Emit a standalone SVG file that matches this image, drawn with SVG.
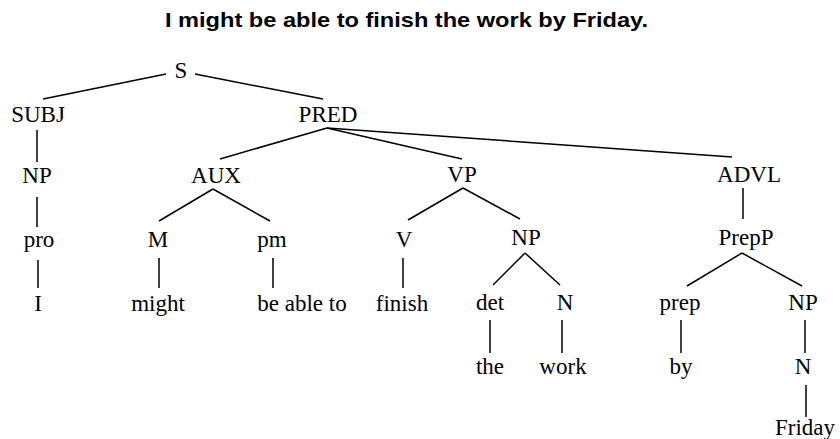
<svg xmlns="http://www.w3.org/2000/svg" width="840" height="439" viewBox="0 0 840 439">
  <style>
    .title { font-family: "Liberation Sans", Arial, sans-serif; font-weight: 700; font-size: 21px; fill: #000; }
    .lbl { font-family: "Liberation Serif", "Times New Roman", serif; font-size: 23px; fill: #000; text-anchor: middle; }
    .edge { stroke: #000; stroke-width: 1.5; fill: none; stroke-linecap: butt; }
  </style>
  <rect width="840" height="439" fill="#fff"/>

  <text class="title" x="165" y="27" textLength="483" lengthAdjust="spacingAndGlyphs">I might be able to finish the work by Friday.</text>

  <!-- branches of the tree -->
  <g id="connectors">
    <line class="edge" x1="166" y1="74" x2="43" y2="99"/>
    <line class="edge" x1="195" y1="74" x2="323" y2="99"/>
    <line class="edge" x1="37" y1="130" x2="37" y2="162"/>
    <line class="edge" x1="327" y1="128" x2="220" y2="159"/>
    <line class="edge" x1="327" y1="128" x2="462" y2="159"/>
    <line class="edge" x1="327" y1="128" x2="732" y2="157"/>
    <line class="edge" x1="37" y1="197" x2="37" y2="227"/>
    <line class="edge" x1="213" y1="189" x2="159" y2="221"/>
    <line class="edge" x1="213" y1="189" x2="270" y2="221"/>
    <line class="edge" x1="463" y1="188" x2="408" y2="220"/>
    <line class="edge" x1="463" y1="188" x2="520" y2="219"/>
    <line class="edge" x1="743" y1="188" x2="743" y2="219"/>
    <line class="edge" x1="38" y1="260" x2="38" y2="288"/>
    <line class="edge" x1="159" y1="258" x2="159" y2="288"/>
    <line class="edge" x1="273" y1="258" x2="273" y2="288"/>
    <line class="edge" x1="403" y1="258" x2="403" y2="288"/>
    <line class="edge" x1="525" y1="253" x2="493" y2="285"/>
    <line class="edge" x1="525" y1="253" x2="560" y2="285"/>
    <line class="edge" x1="742" y1="253" x2="687" y2="286"/>
    <line class="edge" x1="742" y1="253" x2="802" y2="286"/>
    <line class="edge" x1="490" y1="320" x2="490" y2="353"/>
    <line class="edge" x1="562" y1="320" x2="562" y2="353"/>
    <line class="edge" x1="681" y1="320" x2="681" y2="353"/>
    <line class="edge" x1="805" y1="320" x2="805" y2="353"/>
    <line class="edge" x1="806" y1="385" x2="806" y2="417"/>
  </g>

  <g id="n-S"><text class="lbl" x="181" y="78">S</text></g>
  <g id="n-SUBJ"><text class="lbl" x="38" y="122">SUBJ</text></g>
  <g id="n-PRED"><text class="lbl" x="328" y="122">PRED</text></g>
  <g id="n-NP1"><text class="lbl" x="37" y="183">NP</text></g>
  <g id="n-AUX"><text class="lbl" x="216" y="183">AUX</text></g>
  <g id="n-VP"><text class="lbl" x="462" y="182">VP</text></g>
  <g id="n-ADVL"><text class="lbl" x="749" y="182">ADVL</text></g>
  <g id="n-pro"><text class="lbl" x="39" y="247">pro</text></g>
  <g id="n-M"><text class="lbl" x="158" y="247">M</text></g>
  <g id="n-pm"><text class="lbl" x="272" y="247">pm</text></g>
  <g id="n-V"><text class="lbl" x="404" y="247">V</text></g>
  <g id="n-NP2"><text class="lbl" x="526" y="245">NP</text></g>
  <g id="n-PrepP"><text class="lbl" x="746" y="245">PrepP</text></g>
  <g id="n-I"><text class="lbl" x="38" y="311">I</text></g>
  <g id="n-might"><text class="lbl" x="158" y="311">might</text></g>
  <g id="n-beableto"><text class="lbl" x="302" y="311">be able to</text></g>
  <g id="n-finish"><text class="lbl" x="402" y="311">finish</text></g>
  <g id="n-det"><text class="lbl" x="490" y="310">det</text></g>
  <g id="n-N1"><text class="lbl" x="565" y="310">N</text></g>
  <g id="n-prep"><text class="lbl" x="680" y="310">prep</text></g>
  <g id="n-NP3"><text class="lbl" x="803" y="310">NP</text></g>
  <g id="n-the"><text class="lbl" x="490" y="374">the</text></g>
  <g id="n-work"><text class="lbl" x="563" y="374">work</text></g>
  <g id="n-by"><text class="lbl" x="681" y="374">by</text></g>
  <g id="n-N2"><text class="lbl" x="803" y="374">N</text></g>
  <g id="n-Friday"><text class="lbl" x="805" y="435">Friday</text></g>
</svg>
